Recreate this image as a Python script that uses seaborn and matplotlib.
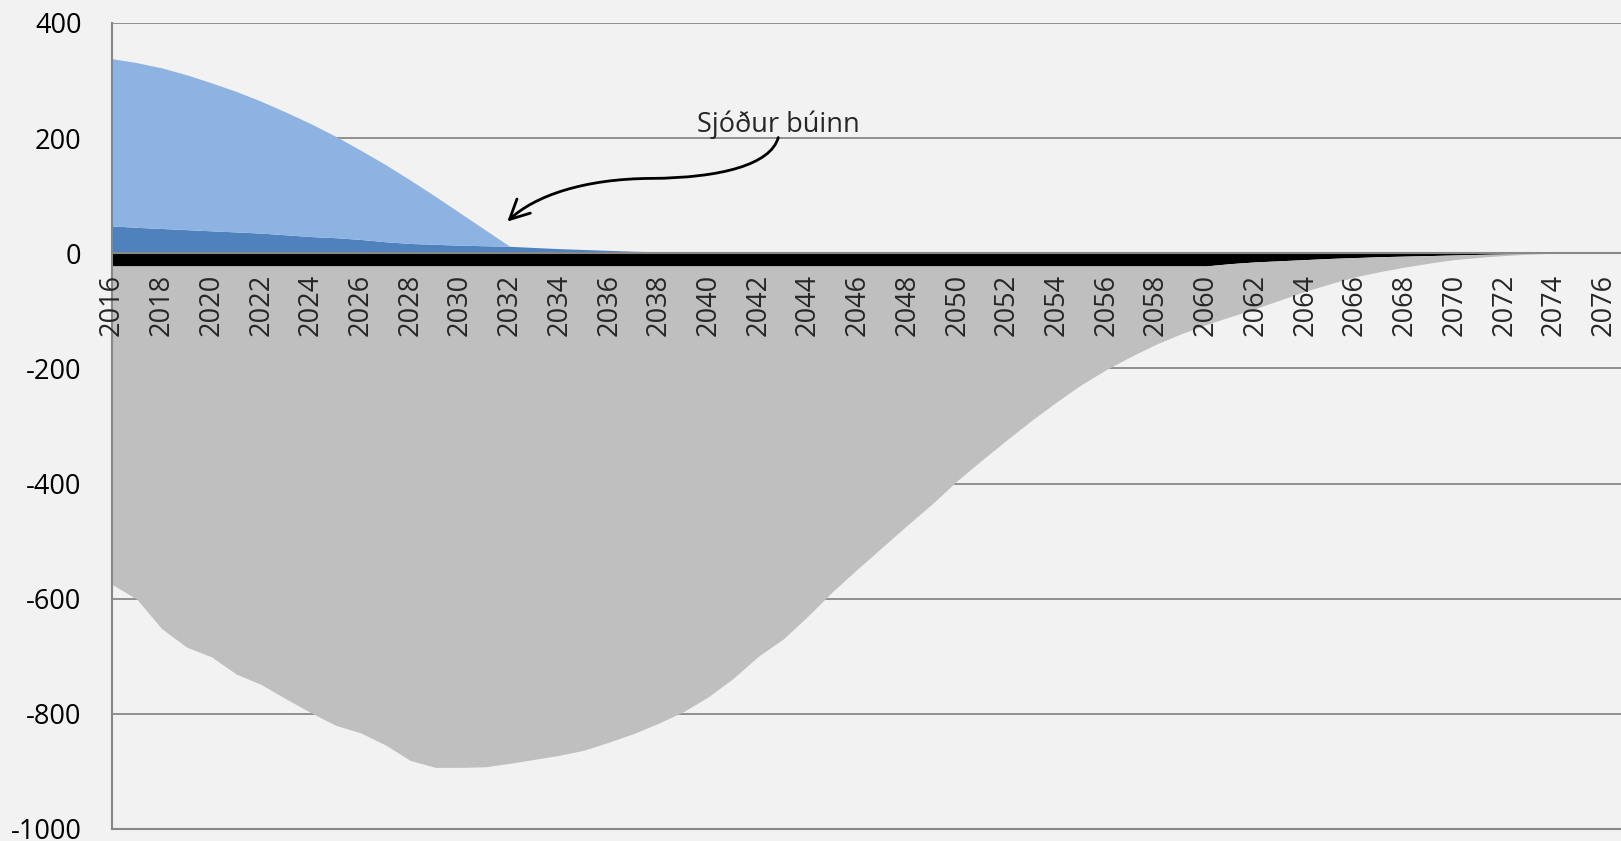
import numpy as np
import pandas as pd
import matplotlib
matplotlib.use('Agg')
import matplotlib.pyplot as plt
from matplotlib.path import Path
from matplotlib.patches import FancyArrowPatch
import seaborn as sns

# %%
## data
years = list(range(2016, 2077))

# light blue, stacked on top of the dark blue
light_blue = [290.5, 286, 279, 269, 257, 244, 229, 213, 196, 176, 155, 134, 110, 83.5, 56, 28, 0] + [0] * 44

# dark blue, bottom positive layer
dark_blue = [47.5, 45, 43, 41, 39, 37, 35, 32, 29, 27, 24, 20, 17, 15.5, 14, 13, 12, 10, 8, 6.5, 5,
             3.5, 2.5, 1, 0] + [0] * 36

# black band just under zero
black_band = [-22] * 45 + [-18, -15, -13, -11, -9, -7.5, -6, -5, -4, -3, -2, -1.2, -0.5, 0, 0, 0]

# gray, stacked under the black band
gray_area = [-553, -579, -630, -662, -679, -709, -727, -752, -776, -798, -811, -832, -859, -871, -871,
             -870, -864, -857, -850, -841, -827, -812, -794, -774, -748, -716, -678, -648, -608, -565,
             -526, -488, -450, -413, -373, -337, -302, -268, -236, -206, -180, -157, -136, -118, -102,
             -92, -81, -68, -55, -44, -33.5, -26, -19, -13, -8, -5, -2.8, -1, 0, 0, 0]

y_ticks = [-1000, -800, -600, -400, -200, 0, 200, 400]
x_labels = years[::2]
note_text = 'Sjóður búinn'

df = pd.DataFrame({'year': years, 'light': light_blue, 'dark': dark_blue,
                   'black': black_band, 'gray': gray_area})
df['pos_top'] = df['dark'] + df['light']
df['neg_bottom'] = df['black'] + df['gray']

# %%
## plot
bg = '#F2F2F2'
line_gray = '#888888'
sns.set_theme(style='whitegrid', rc={'axes.facecolor': bg, 'figure.facecolor': bg,
                                     'grid.color': line_gray, 'grid.linewidth': 1.3,
                                     'axes.edgecolor': line_gray})
plt.rcParams['font.family'] = ['Open Sans', 'DejaVu Sans']
plt.rcParams['axes.unicode_minus'] = False

fig = plt.figure(figsize=(16.21, 8.41), dpi=100)
ax = fig.add_axes([0.0691, 0.0143, 0.9309, 0.9584])

ax.fill_between(df['year'], 0, df['dark'], color='#4F81BD', lw=0, zorder=2)
ax.fill_between(df['year'], df['dark'], df['pos_top'], color='#8DB3E3', lw=0, zorder=2)
ax.fill_between(df['year'], 0, df['black'], color='black', lw=0, zorder=2)
ax.fill_between(df['year'], df['black'], df['neg_bottom'], color='#BFBFBF', lw=0, zorder=2)
ax.axhline(0, color=line_gray, lw=1.5, zorder=3)

ax.set_xlim(2016, 2076.7)
ax.set_ylim(-1000, 400)
ax.set_yticks(y_ticks)
ax.set_yticklabels([str(v) for v in y_ticks])
ax.set_xticks([])
ax.xaxis.grid(False)
ax.tick_params(axis='y', length=0, pad=22, labelsize=19.5, labelcolor='black')

for side in ['top', 'right']:
    ax.spines[side].set_visible(False)
for side in ['left', 'bottom']:
    ax.spines[side].set_color(line_gray)
    ax.spines[side].set_linewidth(1.5)

for yr in x_labels:
    ax.text(yr, -36, str(yr), rotation=90, ha='center', va='top', fontsize=19.5, zorder=4)

## annotation with an S-shaped arrow
ax.text(2042.8, 223, note_text, ha='center', va='center', fontsize=19.5, zorder=5)
verts = [(2042.8, 201), (2042.5, 154), (2040.5, 131), (2037.7, 130),
         (2035.0, 129.5), (2033.0, 100), (2031.9, 55)]
codes = [Path.MOVETO, Path.CURVE4, Path.CURVE4, Path.CURVE4, Path.CURVE4, Path.CURVE4, Path.CURVE4]
arrow = FancyArrowPatch(path=Path(verts, codes), arrowstyle='->,head_length=0.7,head_width=0.35',
                        mutation_scale=20, lw=2, color='black', zorder=5)
ax.add_patch(arrow)

plt.savefig('out.png', dpi=100, facecolor=bg)
